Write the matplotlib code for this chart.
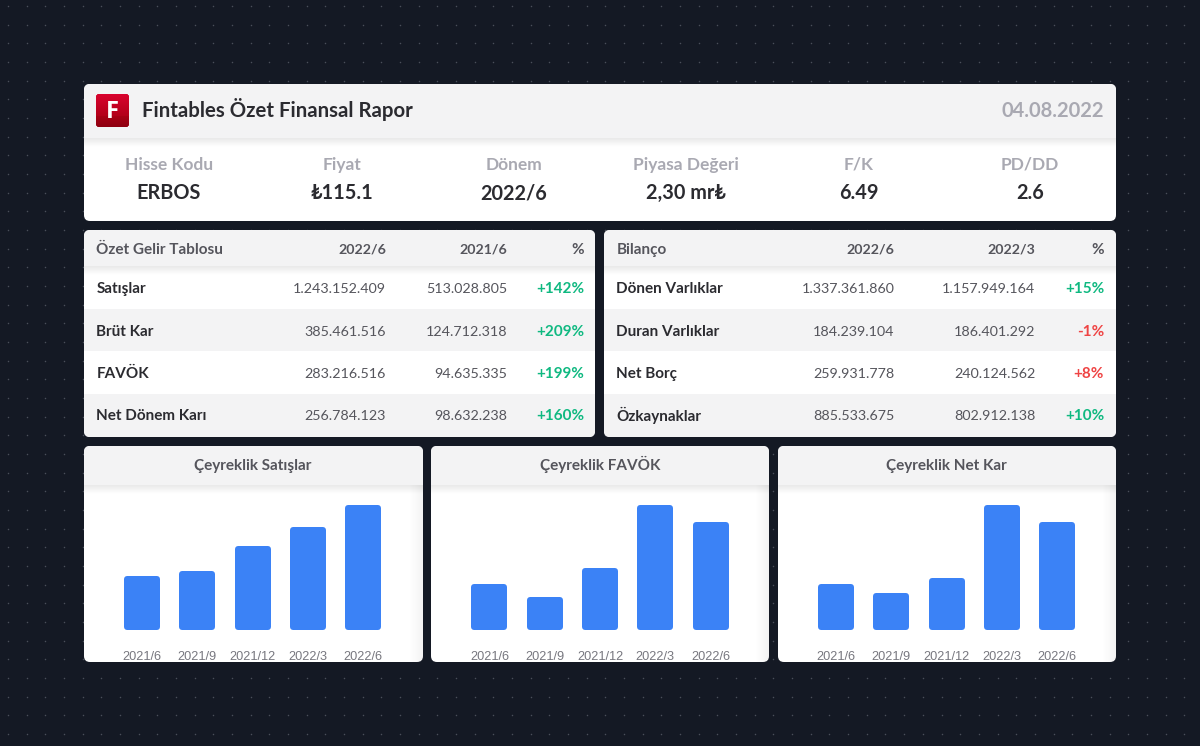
#!/usr/bin/env python3
import numpy as np
import matplotlib
matplotlib.use('Agg')
import matplotlib.pyplot as plt
from matplotlib.patches import FancyBboxPatch, Rectangle

FONT = ['Lato', 'DejaVu Sans']

report_title = 'Fintables Özet Finansal Rapor'
report_date = '04.08.2022'

info_labels = ['Hisse Kodu', 'Fiyat', 'Dönem', 'Piyasa Değeri', 'F/K', 'PD/DD']
info_values = ['ERBOS', '₺115.1', '2022/6', '2,30 mr₺', '6.49', '2.6']

income_header = ['Özet Gelir Tablosu', '2022/6', '2021/6', '%']
income_names = ['Satışlar', 'Brüt Kar', 'FAVÖK', 'Net Dönem Karı']
income_now = ['1.243.152.409', '385.461.516', '283.216.516', '256.784.123']
income_prev = ['513.028.805', '124.712.318', '94.635.335', '98.632.238']
income_pct = ['+142%', '+209%', '+199%', '+160%']
income_good = [True, True, True, True]

balance_header = ['Bilanço', '2022/6', '2022/3', '%']
balance_names = ['Dönen Varlıklar', 'Duran Varlıklar', 'Net Borç', 'Özkaynaklar']
balance_now = ['1.337.361.860', '184.239.104', '259.931.778', '885.533.675']
balance_prev = ['1.157.949.164', '186.401.292', '240.124.562', '802.912.138']
balance_pct = ['+15%', '-1%', '+8%', '+10%']
balance_good = [True, False, False, True]

quarters = ['2021/6', '2021/9', '2021/12', '2022/3', '2022/6']
sales = [54, 59, 84, 103, 125]
favok = [46, 33, 62, 125, 108]
net_profit = [46, 37, 52, 125, 108]

BG = '#141924'
HEAD = '#f3f3f4'
DARK = '#2b2b30'
MID = '#55555c'
LIGHT = '#a9a9b2'
GREEN = '#10b981'
RED = '#ef4444'
BLUE = '#3b82f6'

fig = plt.figure(figsize=(12, 7.46), dpi=100, facecolor=BG)
ax = fig.add_axes([0, 0, 1, 1])
ax.set_xlim(0, 1200)
ax.set_ylim(746, 0)
ax.axis('off')


def card(x0, y0, x1, y1):
    patch = FancyBboxPatch((x0, y0), x1 - x0, y1 - y0, boxstyle='round,pad=0,rounding_size=6',
                           fc='white', ec='none', zorder=2)
    ax.add_patch(patch)
    return patch


def clipped_rect(clip, x0, y0, x1, y1, color, zorder=3):
    r = Rectangle((x0, y0), x1 - x0, y1 - y0, fc=color, ec='none', zorder=zorder)
    ax.add_patch(r)
    r.set_clip_path(clip)


def gradient(clip, x0, y0, x1, y1, c0, c1, vertical=True, zorder=3):
    # plain two colour ramp, alpha goes with it
    c0 = np.array(matplotlib.colors.to_rgba(c0))
    c1 = np.array(matplotlib.colors.to_rgba(c1))
    t = np.linspace(0, 1, 32)[:, None]
    img = c0 * (1 - t) + c1 * t
    img = img[:, None, :] if vertical else img[None, :, :]
    im = ax.imshow(img, extent=(x0, x1, y1, y0), aspect='auto', zorder=zorder, interpolation='bilinear')
    im.set_clip_path(clip)


def header_shadow(clip, x0, x1, y):
    gradient(clip, x0, y, x1, y + 9, (0, 0, 0, 0.09), (0, 0, 0, 0), zorder=4)


def label(x, y, s, size, color, weight='bold', ha='left'):
    # y is the text baseline, so accents and descenders do not move it
    ax.text(x, y, s, family=FONT, fontsize=size, fontweight=weight, color=color, ha=ha, va='baseline', zorder=6)


# dotted background
gx, gy = np.meshgrid(np.arange(8, 1200, 18.67), np.arange(6, 746, 18.67))
ax.scatter(gx.ravel(), gy.ravel(), s=1.2, c='#4a4f5a', linewidths=0, zorder=1)

# top card
top = card(84, 84, 1116, 221)
clipped_rect(top, 84, 84, 1116, 138, HEAD)
header_shadow(top, 84, 1116, 138)
label(142, 117, report_title, 14.7, DARK)
label(1104, 117, report_date, 14.5, LIGHT, ha='right')

logo = FancyBboxPatch((96, 94), 33, 33, boxstyle='round,pad=0,rounding_size=3', fc='#c00020', ec='none', zorder=5)
ax.add_patch(logo)
gradient(logo, 96, 94, 129, 116, '#d9042f', '#b30019', zorder=5)
gradient(logo, 96, 116, 129, 127, '#a80015', '#8e0010', zorder=5)
ax.text(112.5, 117.5, 'F', family='Open Sans', fontsize=17, fontweight='bold', color='white', ha='center', va='baseline', zorder=6)

info_x = [169, 342, 514, 686, 859, 1030]
for x, lab, val in zip(info_x, info_labels, info_values):
    label(x, 170, lab, 12.5, LIGHT, ha='center')
    label(x, 199, val, 14.3, DARK, ha='center')


def fin_table(x0, x1, cols, header, names, now, prev, pct, good):
    c = card(x0, 230, x1, 437)
    clipped_rect(c, x0, 230, x1, 266, HEAD)
    clipped_rect(c, x0, 309, x1, 351, HEAD)
    clipped_rect(c, x0, 394, x1, 437, HEAD)
    header_shadow(c, x0, x1, 266)
    label(x0 + 12.5, 254, header[0], 11, MID)
    for cx, h, s in zip(cols, header[1:], [10.2, 10.2, 11]):
        label(cx, 254, h, s, MID, ha='right')
    for y, name, a, b, p, g in zip([293, 335.5, 378, 420.5], names, now, prev, pct, good):
        label(x0 + 12.5, y, name, 11, DARK)
        label(cols[0], y, a, 10.3, MID, weight='normal', ha='right')
        label(cols[1], y, b, 10.3, MID, weight='normal', ha='right')
        label(cols[2], y, p, 11, GREEN if g else RED, ha='right')


fin_table(84, 595, [386, 507, 584], income_header, income_names, income_now, income_prev, income_pct, income_good)
fin_table(604, 1116, [894.5, 1035.5, 1104], balance_header, balance_names, balance_now, balance_prev, balance_pct, balance_good)


def bar_panel(x0, x1, mid, title, values):
    c = card(x0, 446, x1, 662)
    clipped_rect(c, x0, 446, x1, 485, HEAD)
    header_shadow(c, x0, x1, 485)
    gradient(c, x1 - 14, 485, x1, 662, (0, 0, 0, 0), (0, 0, 0, 0.05), vertical=False, zorder=3)
    label(mid, 470, title, 11, MID, ha='center')

    # one data unit is one pixel high, the round edge adds 3 on each side
    step = 55.3
    left = mid - 2.5 * step
    bax = fig.add_axes([left / 1200, (746 - 630) / 746, 5 * step / 1200, 140 / 746], zorder=5)
    bax.patch.set_alpha(0)
    inset = 3
    bax.bar(range(len(values)), [v - 2 * inset for v in values], bottom=inset, width=0.54,
            color=BLUE, edgecolor=BLUE, linewidth=2 * inset * 0.72, joinstyle='round')
    bax.set_xlim(-0.5, 4.5)
    bax.set_ylim(0, 140)
    bax.set_yticks([])
    bax.set_xticks(range(len(quarters)))
    bax.set_xticklabels(quarters, family='Liberation Sans', fontsize=9.2, color='#77777f')
    bax.tick_params(axis='x', length=0, pad=15)
    for s in bax.spines.values():
        s.set_visible(False)


bar_panel(84, 423, 252.7, 'Çeyreklik Satışlar', sales)
bar_panel(431, 769, 600, 'Çeyreklik FAVÖK', favok)
bar_panel(778, 1116, 946.7, 'Çeyreklik Net Kar', net_profit)

ax.set_xlim(0, 1200)
ax.set_ylim(746, 0)
fig.savefig('out.png', dpi=100, facecolor=BG)
